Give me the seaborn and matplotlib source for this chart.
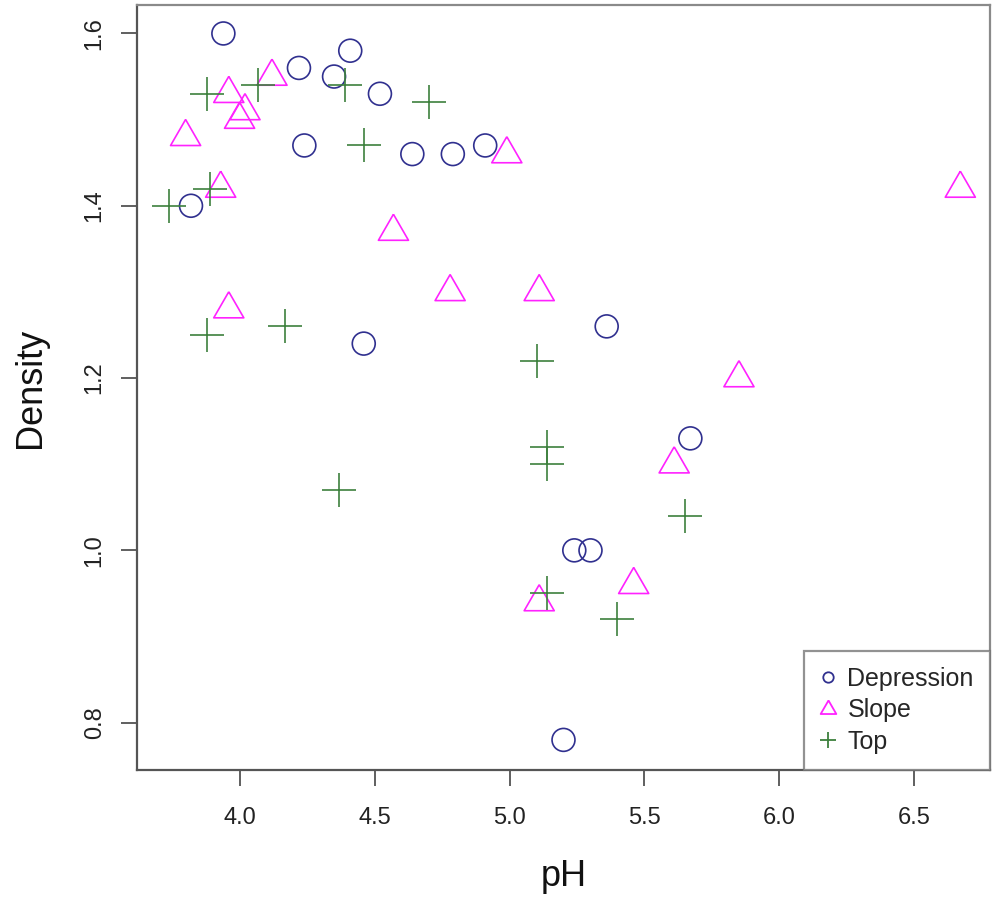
import numpy as np
import pandas as pd
import matplotlib
matplotlib.use("Agg")
import matplotlib.pyplot as plt
from matplotlib.lines import Line2D
import seaborn as sns

# Soil samples: pH and bulk density by landscape contour position
contours = ["Depression", "Slope", "Top"]

depression_ph = [3.94, 4.22, 4.35, 4.41, 4.52, 4.24, 4.64, 4.79,
                 4.91, 3.82, 4.46, 5.36, 5.67, 5.24, 5.30, 5.20]
depression_dens = [1.60, 1.56, 1.55, 1.58, 1.53, 1.47, 1.46, 1.46,
                   1.47, 1.40, 1.24, 1.26, 1.13, 1.00, 1.00, 0.78]

slope_ph = [5.11, 5.46, 5.61, 5.85, 4.57, 5.11, 4.78, 6.67,
            3.96, 4.00, 4.12, 4.99, 3.80, 3.96, 3.93, 4.02]
slope_dens = [0.94, 0.96, 1.10, 1.20, 1.37, 1.30, 1.30, 1.42,
              1.28, 1.50, 1.55, 1.46, 1.48, 1.53, 1.42, 1.51]

top_ph = [5.40, 5.65, 5.14, 5.14, 5.14, 5.10, 4.70, 4.46,
          4.37, 4.39, 4.17, 3.89, 3.88, 4.07, 3.88, 3.74]
top_dens = [0.92, 1.04, 0.95, 1.10, 1.12, 1.22, 1.52, 1.47,
            1.07, 1.54, 1.26, 1.42, 1.25, 1.54, 1.53, 1.40]

x_ticks = [4.0, 4.5, 5.0, 5.5, 6.0, 6.5]
y_ticks = [0.8, 1.0, 1.2, 1.4, 1.6]

df = pd.DataFrame({
    "pH": depression_ph + slope_ph + top_ph,
    "Density": depression_dens + slope_dens + top_dens,
    "Contour": ([contours[0]] * len(depression_ph)
                + [contours[1]] * len(slope_ph)
                + [contours[2]] * len(top_ph)),
})

sns.set_theme(style="white")
plt.rcParams["font.family"] = ["Liberation Sans", "DejaVu Sans"]

colors = {"Depression": "#30308f", "Slope": "#ff22ff", "Top": "#3d803d"}
# equilateral triangle centred on its centroid
tri = [(0.0, 1.0), (-0.866, -0.5), (0.866, -0.5), (0.0, 1.0)]
markers = {"Depression": "o", "Slope": tri, "Top": "+"}
sizes = {"Depression": 16.5, "Slope": 25.0, "Top": 24.0}

fig = plt.figure(figsize=(10, 9), dpi=100)
ax = fig.add_axes([0.137, 0.1444, 0.853, 0.8500])

for c in contours:
    sub = df[df["Contour"] == c]
    if markers[c] == "+":
        sns.scatterplot(data=sub, x="pH", y="Density", ax=ax, marker="+",
                        s=sizes[c] ** 2, color=colors[c], linewidth=1.2,
                        legend=False, zorder=3)
    else:
        sns.scatterplot(data=sub, x="pH", y="Density", ax=ax,
                        marker=markers[c], s=sizes[c] ** 2,
                        color=colors[c], facecolor="none",
                        edgecolor=colors[c], linewidth=1.2,
                        legend=False, zorder=3)

ax.set_xlim(3.62, 6.78)
ax.set_ylim(0.745, 1.633)
ax.set_xticks(x_ticks)
ax.set_xticklabels([f"{v:.1f}" for v in x_ticks])
ax.set_yticks(y_ticks)
ax.set_yticklabels([f"{v:.1f}" for v in y_ticks], rotation=90, va="center")

ax.tick_params(axis="both", which="major", direction="out", length=11.5,
               width=1.2, color="#444444", labelsize=17, labelcolor="#222222",
               bottom=True, left=True)
ax.tick_params(axis="x", pad=15)
ax.tick_params(axis="y", pad=11)

for side in ["left", "bottom"]:
    ax.spines[side].set_color("#555555")
    ax.spines[side].set_linewidth(1.6)
for side in ["top", "right"]:
    ax.spines[side].set_color("#8a8a8a")
    ax.spines[side].set_linewidth(1.6)

ax.set_xlabel("pH", fontsize=26, labelpad=22, color="#111111")
ax.set_ylabel("Density", fontsize=26, labelpad=26, color="#111111")

handles = [
    Line2D([], [], linestyle="none", marker="o", markersize=7.5,
           markerfacecolor="none", markeredgecolor=colors["Depression"],
           markeredgewidth=1.3),
    Line2D([], [], linestyle="none", marker=tri, markersize=13,
           markerfacecolor="none", markeredgecolor=colors["Slope"],
           markeredgewidth=1.3),
    Line2D([], [], linestyle="none", marker="+", markersize=12,
           markeredgecolor=colors["Top"], markeredgewidth=1.3),
]
leg = ax.legend(handles, contours, loc="lower right", borderaxespad=0,
                fontsize=18, frameon=True, fancybox=False,
                handletextpad=0.45, labelspacing=0.3, borderpad=0.65,
                handlelength=0.65)
leg.get_frame().set_edgecolor("#777777")
leg.get_frame().set_linewidth(1.6)

fig.savefig("out.png", dpi=100)
